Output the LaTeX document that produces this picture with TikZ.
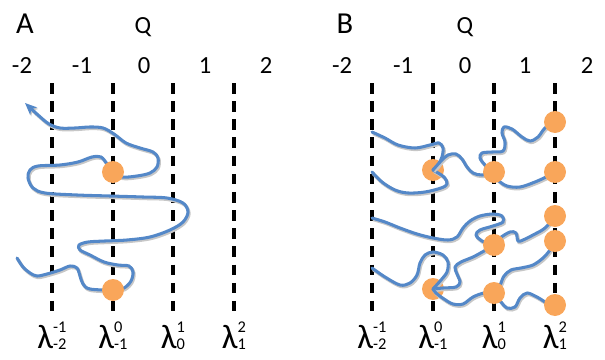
\documentclass[tikz,border=0pt]{standalone}
\usepackage{fontspec}
\setmainfont{Carlito}
\usetikzlibrary{arrows.meta}
\definecolor{chainblue}{RGB}{84,136,200}
\definecolor{beadorange}{HTML}{F9A65A}
\newcommand{\lam}[2]{{\fontsize{29}{29}\selectfont λ}\rlap{\raisebox{13.6pt}{\fontsize{14}{14}\selectfont #1}}\raisebox{-1.7pt}{\fontsize{14}{14}\selectfont #2}}

\begin{document}
\begin{tikzpicture}[x=0.03cm,y=-0.03cm,
	chain/.style={draw=chainblue,line width=2.6pt,line join=round,line cap=round,
		preaction={draw=black!22,line width=2.8pt,transform canvas={shift={(0.9pt,-1.3pt)}}}},
	guide/.style={black,line width=2.9pt,dash pattern=on 9pt off 6.5pt},
	bead/.style={fill=beadorange},
	ticklabel/.style={anchor=base,font=\fontsize{21}{21}\selectfont},
	panel/.style={anchor=base,font=\fontsize{26}{26}\selectfont},
	lamlabel/.style={anchor=base,inner sep=0pt}]
	\useasboundingbox (0,0) rectangle (605,360);
	
	% panel A
	\node[panel] (pa) at (25,33) {A};
	\node[ticklabel] (qa) at (143,33) {Q};
	\foreach \x/\t [count=\i] in {22/-2,82/-1,144/0,205/1,266/2}
		\node[ticklabel] (ta\i) at (\x,73) {\t};
	\foreach \x in {52,113,173,234}
		\draw[guide] (\x,83) -- (\x,313);
	\node[lamlabel] (la1) at (52,348) {\lam{-1}{-2}};
	\node[lamlabel] (la2) at (113,348) {\lam{0}{-1}};
	\node[lamlabel] (la3) at (173,348) {\lam{1}{0}};
	\node[lamlabel] (la4) at (234,348) {\lam{2}{1}};
	
	\coordinate (a1) at (113,172);
	\coordinate (a2) at (113,290);
	\draw[chain,-{Stealth[length=10pt,width=8.5pt,inset=2.5pt]}] plot[smooth,tension=0.55] coordinates {
		(17,258) (23,267) (30,273) (37,276) (47,274) (60,270) (70,266) (77,268) (80,276) (83,284) (90,289) (a2)
		(124,288) (131,281) (133,272) (129,266) (118,265) (104,262) (90,255) (80,250) (79,245) (88,242) (105,241)
		(127,240) (150,237) (170,230) (183,222) (188,212) (183,203) (167,198) (143,197) (110,196) (77,195)
		(45,193) (33,188) (28,178) (30,170) (38,166) (60,165) (78,162) (92,157) (101,157) (107,164) (a1)
		(122,177) (137,176) (150,173) (157,167) (158,158) (153,152) (140,148) (126,143) (114,134) (103,128)
		(90,127) (75,128) (60,128) (49,124) (38,115) (25,103)};
	\foreach \b in {a1,a2}
		\fill[bead] (\b) circle (11);
	
	% panel B
	\node[panel] (pb) at (345,33) {B};
	\node[ticklabel] (qb) at (465,33) {Q};
	\foreach \x/\t [count=\i] in {342/-2,403/-1,465/0,525/1,587/2}
		\node[ticklabel] (tb\i) at (\x,73) {\t};
	\foreach \x in {372,433,494,555}
		\draw[guide] (\x,83) -- (\x,313);
	\node[lamlabel] (lb1) at (372,348) {\lam{-1}{-2}};
	\node[lamlabel] (lb2) at (433,348) {\lam{0}{-1}};
	\node[lamlabel] (lb3) at (494,348) {\lam{1}{0}};
	\node[lamlabel] (lb4) at (555,348) {\lam{2}{1}};
	
	\coordinate (b1) at (433,170);
	\coordinate (b2) at (494,172);
	\coordinate (b3) at (555,122);
	\coordinate (b4) at (555,172);
	\coordinate (b5) at (555,216);
	\coordinate (b6) at (555,241);
	\coordinate (b7) at (494,245);
	\coordinate (b8) at (433,289);
	\coordinate (b9) at (494,293);
	\coordinate (b10) at (555,305);
	\foreach \b in {b1,b8}
		\fill[bead] (\b) circle (11);
	
	\draw[chain] plot[smooth,tension=0.55] coordinates {(372,132) (385,138) (398,145) (415,148) (430,145) (439,143) (443,148) (442,157) (438,165) (b1)};
	\draw[chain] plot[smooth,tension=0.55] coordinates {(372,172) (382,182) (395,190) (408,193) (425,192) (441,188) (447,184) (444,177) (b1)};
	\draw[chain] plot[smooth,tension=0.55] coordinates {(b1) (441,161) (448,155) (456,154) (462,159) (467,167) (473,173) (482,175) (b2)};
	\draw[chain] plot[smooth,tension=0.55] coordinates {(b2) (485,165) (480,158) (482,153) (492,152) (503,151) (505,142) (502,133) (504,127) (512,129) (522,137) (530,141) (538,137) (545,128) (b3)};
	\draw[chain] plot[smooth,tension=0.55] coordinates {(b2) (498,180) (507,186) (520,187) (535,182) (546,177) (b4)};
	\draw[chain] plot[smooth,tension=0.55] coordinates {(372,218) (385,222) (400,228) (417,234) (433,238) (448,240) (457,237) (463,228) (470,221) (480,216) (493,214) (502,216) (503,222) (493,226) (480,230) (476,235) (482,241) (b7)};
	\draw[chain] plot[smooth,tension=0.55] coordinates {(b7) (500,238) (510,232) (516,233) (518,241) (523,240) (533,235) (545,228) (b5)};
	\draw[chain] plot[smooth,tension=0.55] coordinates {(372,268) (385,277) (400,285) (410,283) (417,275) (420,263) (425,255) (433,252) (443,255) (448,262) (447,272) (441,280) (b8)};
	\draw[chain] plot[smooth,tension=0.55] coordinates {(b8) (443,288) (456,287) (460,282) (457,274) (455,267) (461,262) (473,257) (484,251) (b7)};
	\draw[chain] plot[smooth,tension=0.55] coordinates {(b8) (436,293) (444,299) (453,304) (463,304) (473,297) (484,293) (b9)};
	\draw[chain] plot[smooth,tension=0.55] coordinates {(b9) (500,285) (504,276) (511,270) (521,268) (533,265) (543,258) (550,250) (b6)};
	\draw[chain] plot[smooth,tension=0.55] coordinates {(b9) (501,302) (507,308) (515,307) (520,298) (527,293) (537,297) (547,303) (b10)};
	\foreach \b in {b2,b3,b4,b5,b6,b7,b9,b10}
		\fill[bead] (\b) circle (11);
\end{tikzpicture}
\end{document}
